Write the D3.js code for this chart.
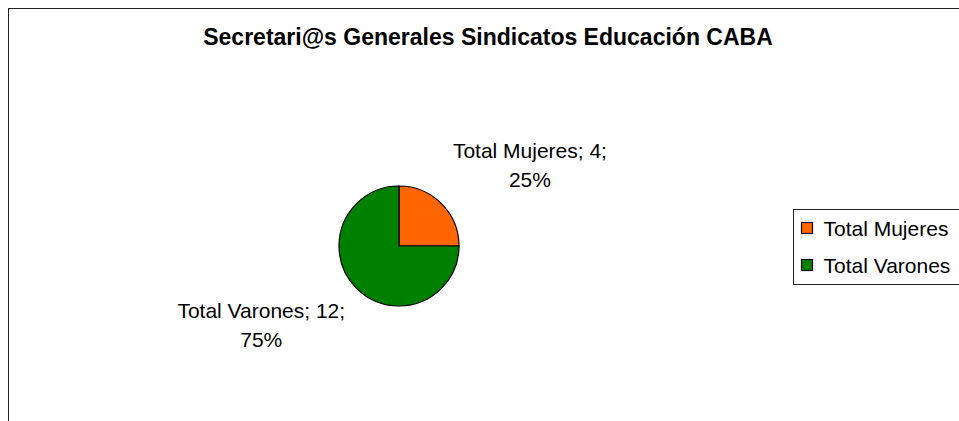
<!DOCTYPE html>
<html>
<head>
<meta charset="UTF-8">
<style>
body{
	margin: 0;
	background: #fff;
	font-family: "Liberation Sans", Arial, Helvetica, sans-serif;
}
svg{
	display: block;
}
.title{
	font-size: 23px;
	font-weight: bold;
	text-anchor: middle;
}
.slice-label, .legend-label{
	font-size: 21px;
	fill: #000;
}
.slice{
	stroke: #000;
	stroke-width: 1.2;
}
</style>
<script src="https://cdn.jsdelivr.net/npm/d3@7"></script>
</head>
<body>
<script>
	var categories = ["Total Mujeres", "Total Varones"];
	var values = [4, 12];
	var colors = ["#FF6600", "#008000"];
	var chartTitle = "Secretari@s Generales Sindicatos Educación CABA";

	var width = 959, height = 421;
	var center = {x: 399, y: 246}, radius = 60;

	var data = categories.map(function(c, i){ return {name: c, value: values[i]}; });
	var total = d3.sum(values);

	var svg = d3.select("body").append("svg")
		.attr("width", width)
		.attr("height", height);

	// chart area frame (runs off the right and bottom edge)
	svg.append("rect")
		.attr("x", 8.5)
		.attr("y", 8.5)
		.attr("width", width + 20)
		.attr("height", height + 20)
		.attr("fill", "#fff")
		.attr("stroke", "#222")
		.attr("stroke-width", 1);

	svg.append("text")
		.attr("class", "title")
		.attr("x", 488)
		.attr("y", 45)
		.text(chartTitle);

	var pie = d3.pie()
		.sort(null)
		.value(function(d){ return d.value; });

	var arc = d3.arc()
		.innerRadius(0)
		.outerRadius(radius);

	var g = svg.append("g")
		.attr("transform", "translate(" + center.x + "," + center.y + ")");

	var arcs = pie(data);

	g.selectAll("path")
		.data(arcs)
		.enter().append("path")
		.attr("class", "slice")
		.attr("fill", function(d, i){ return colors[i]; })
		.attr("d", arc);

	// labels: the label box corner sits on an outer arc along the slice mid angle
	var labelArc = d3.arc().innerRadius(radius * 1.27).outerRadius(radius * 1.27);
	var pct = d3.format(".0%");
	var lineH = 29;

	arcs.forEach(function(d){
		var c = labelArc.centroid(d);
		var line1 = d.data.name + "; " + d.data.value + ";";
		var line2 = pct(d.data.value / total);
		var t = g.append("text")
			.attr("class", "slice-label")
			.attr("text-anchor", "middle");
		var t1 = t.append("tspan").text(line1);
		var w = t1.node().getComputedTextLength();
		var right = c[0] >= 0, below = c[1] >= 0;
		var cx = right ? c[0] + w / 2 : c[0] - w / 2;
		var base1 = below ? c[1] + 18 : c[1] - 5 - lineH;
		t1.attr("x", cx).attr("y", base1);
		t.append("tspan").attr("x", cx).attr("y", base1 + lineH).text(line2);
	});

	// legend, vertically centred on the pie
	var legend = svg.append("g")
		.attr("transform", "translate(793.5,209.5)");

	legend.append("rect")
		.attr("width", 200)
		.attr("height", 75)
		.attr("fill", "#fff")
		.attr("stroke", "#222");

	var item = legend.selectAll(".item")
		.data(data)
		.enter().append("g")
		.attr("class", "item")
		.attr("transform", function(d, i){ return "translate(8," + (13 + i * 37) + ")"; });

	item.append("rect")
		.attr("width", 11)
		.attr("height", 11)
		.attr("fill", function(d, i){ return colors[i]; })
		.attr("stroke", "#000")
		.attr("stroke-width", 1.2);

	item.append("text")
		.attr("class", "legend-label")
		.attr("x", 22)
		.attr("y", 13)
		.text(function(d){ return d.name; });
</script>
</body>
</html>
